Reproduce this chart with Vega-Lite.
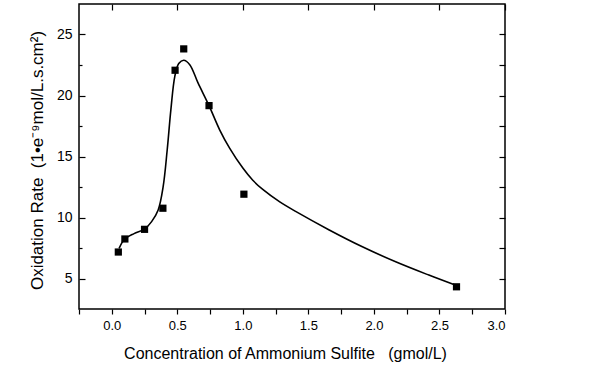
{
  "$schema": "https://vega.github.io/schema/vega-lite/v6.json",
  "width": 426,
  "height": 305,
  "autosize": "none",
  "padding": {"left": 79, "top": 4, "right": 95, "bottom": 59},
  "background": "white",
  "config": {
    "font": "Liberation Sans",
    "view": {"stroke": "black", "strokeWidth": 1.5},
    "axis": {
      "grid": false,
      "domain": false,
      "tickColor": "black",
      "tickWidth": 1.2,
      "labelColor": "black",
      "labelFont": "Liberation Sans",
      "labelFontSize": 13,
      "titleFont": "Liberation Sans",
      "titleFontSize": 17,
      "titleFontWeight": "normal",
      "titleColor": "black"
    }
  },
  "datasets": {
    "curve": [
      {"x": 0.056, "y": 7.47},
      {"x": 0.096, "y": 8.2},
      {"x": 0.17, "y": 8.68},
      {"x": 0.25, "y": 9.05},
      {"x": 0.304, "y": 9.66},
      {"x": 0.354, "y": 10.62},
      {"x": 0.392, "y": 12.53},
      {"x": 0.423, "y": 15.55},
      {"x": 0.451, "y": 18.84},
      {"x": 0.481, "y": 21.57},
      {"x": 0.511, "y": 22.62},
      {"x": 0.549, "y": 22.89},
      {"x": 0.595, "y": 22.53},
      {"x": 0.658, "y": 21.03},
      {"x": 0.742, "y": 19.17},
      {"x": 0.823, "y": 17.19},
      {"x": 0.899, "y": 15.69},
      {"x": 1.0, "y": 14.05},
      {"x": 1.076, "y": 13.05},
      {"x": 1.152, "y": 12.3},
      {"x": 1.279, "y": 11.3},
      {"x": 1.406, "y": 10.48},
      {"x": 1.659, "y": 8.98},
      {"x": 1.912, "y": 7.6},
      {"x": 2.166, "y": 6.37},
      {"x": 2.419, "y": 5.28},
      {"x": 2.62, "y": 4.46}
    ],
    "points": [
      {"x": 0.05, "y": 7.17},
      {"x": 0.1, "y": 8.24},
      {"x": 0.25, "y": 9.03},
      {"x": 0.39, "y": 10.76},
      {"x": 0.483, "y": 22.07},
      {"x": 0.549, "y": 23.82},
      {"x": 0.742, "y": 19.17},
      {"x": 1.008, "y": 11.91},
      {"x": 2.63, "y": 4.32}
    ]
  },
  "layer": [
    {
      "data": {"name": "curve"},
      "mark": {"type": "line", "interpolate": "catmull-rom", "color": "black", "strokeWidth": 1.6},
      "encoding": {
        "x": {
          "field": "x", "type": "quantitative",
          "scale": {"domain": [-0.25, 3.0], "nice": false, "zero": false},
          "axis": {
            "orient": "bottom",
            "title": "Concentration of Ammonium Sulfite\u00a0\u00a0\u00a0(gmol/L)",
            "titleFontSize": 16,
            "values": [-0.25, 0, 0.25, 0.5, 0.75, 1, 1.25, 1.5, 1.75, 2, 2.25, 2.5, 2.75, 3],
            "labelExpr": "(datum.value * 2) % 1 == 0 ? format(datum.value, '.1f') : ''",
            "tickSize": 5,
            "labelPadding": 5,
            "titleX": 206,
            "titleY": 49,
            "titleAlign": "center",
            "titleBaseline": "alphabetic"
          }
        },
        "y": {
          "field": "y", "type": "quantitative",
          "scale": {"domain": [2.5, 27.5], "nice": false, "zero": false},
          "axis": {
            "orient": "left",
            "title": "Oxidation Rate\u00a0\u00a0(1•e⁻⁹mol/L.s.cm²)",
            "values": [5, 10, 15, 20, 25],
            "labelFontSize": 14,
            "tickSize": -6,
            "labelPadding": 13,
            "titleX": -37,
            "titleY": 156,
            "titleAlign": "center",
            "titleBaseline": "alphabetic",
            "titleAngle": -90
          }
        }
      }
    },
    {
      "data": {"name": "points"},
      "mark": {"type": "square", "color": "black", "filled": true, "opacity": 1, "size": 52},
      "encoding": {
        "x": {
          "field": "x", "type": "quantitative",
          "axis": {
            "orient": "top", "title": null, "labels": false,
            "values": [0, 0.5, 1, 1.5, 2, 2.5, 3],
            "tickSize": -6
          }
        },
        "y": {
          "field": "y", "type": "quantitative",
          "axis": {
            "orient": "right", "title": null, "labels": false,
            "values": [5, 7.5, 10, 12.5, 15, 17.5, 20, 22.5, 25],
            "tickSize": -6
          }
        }
      }
    },
    {
      "data": {"name": "points"},
      "mark": {"type": "point", "opacity": 0},
      "encoding": {
        "x": {"field": "x", "type": "quantitative", "axis": null},
        "y": {
          "field": "y", "type": "quantitative",
          "axis": {
            "orient": "left", "title": null, "labels": false,
            "values": [7.5, 12.5, 17.5, 22.5],
            "tickSize": -3
          }
        }
      }
    }
  ],
  "resolve": {"axis": {"x": "independent", "y": "independent"}}
}
